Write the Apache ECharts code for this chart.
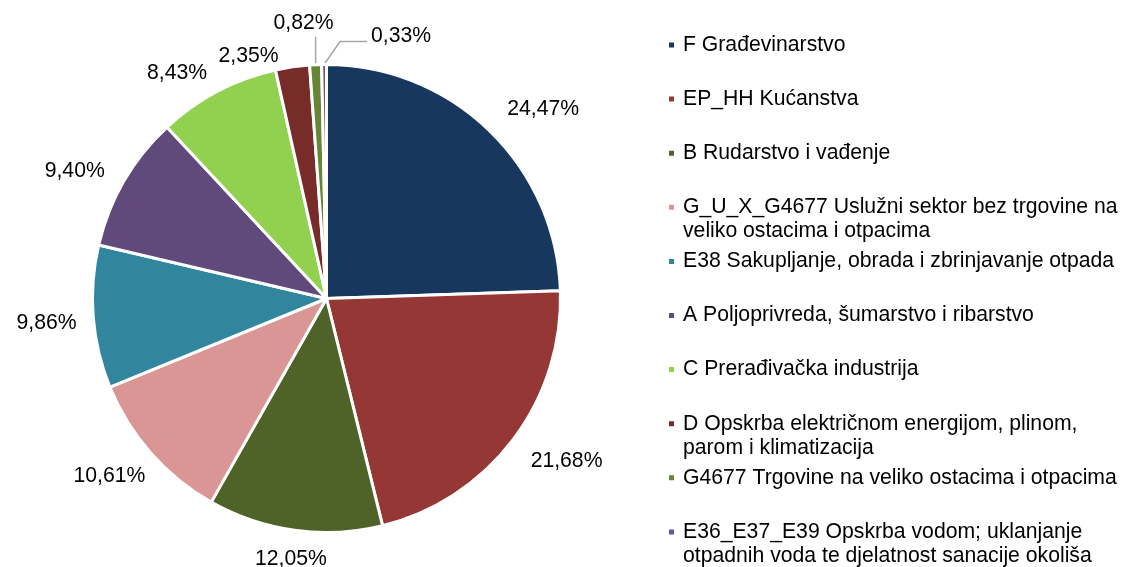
<!DOCTYPE html>
<html>
<head>
<meta charset="utf-8">
<script src="https://cdn.jsdelivr.net/npm/echarts@6/dist/echarts.min.js"></script>
<style>
html,body{margin:0;padding:0;background:#fff;}
#chart{width:1124px;height:567px;}
</style>
</head>
<body>
<div id="chart"></div>
<script>
// ---- data ----
const categories = [
  "F Građevinarstvo",
  "EP_HH Kućanstva",
  "B Rudarstvo i vađenje",
  "G_U_X_G4677 Uslužni sektor bez trgovine na\nveliko ostacima i otpacima",
  "E38 Sakupljanje, obrada i zbrinjavanje otpada",
  "A Poljoprivreda, šumarstvo i ribarstvo",
  "C Prerađivačka industrija",
  "D Opskrba električnom energijom, plinom,\nparom i klimatizacija",
  "G4677 Trgovine na veliko ostacima i otpacima",
  "E36_E37_E39 Opskrba vodom; uklanjanje\notpadnih voda te djelatnost sanacije okoliša"
];
const shares = [24.47, 21.68, 12.05, 10.61, 9.86, 9.40, 8.43, 2.35, 0.82, 0.33];
const colors = ["#17375E", "#953735", "#4F6228", "#D99694", "#31859C", "#604A7B", "#92D050", "#772C2A", "#678535", "#6A569A"];

// ---- layout ----
const FONT = "'Liberation Sans', Arial, sans-serif";
const FS = 21.2;
const cx = 326.5, cy = 298.5, R = 234;
const total = shares.reduce((a, b) => a + b, 0);
const midAngles = [];
{
  let acc = 0;
  shares.forEach(v => { midAngles.push((acc + v / 2) / total * 2 * Math.PI); acc += v; });
}
const fmt = v => v.toFixed(2).replace('.', ',') + '%';
// small label nudges to mimic the spreadsheet's best-fit label placement
const labelNudge = {0: [23, 11], 1: [16, -7], 2: [0, 2], 3: [-7, -7], 4: [-4, 3], 5: [-12, 12], 6: [-24, 13], 7: [-40, 16]};

const legends = categories.map((name, i) => {
  const multi = name.indexOf('\n') >= 0;
  const yLine = 45 + 54.1 * i;
  return {
    show: true,
    orient: 'vertical',
    left: 667,
    top: yLine - (multi ? 36 : 12),
    padding: 0,
    itemWidth: 7,
    itemHeight: 7,
    icon: 'rect',
    selectedMode: false,
    data: [name],
    formatter: multi ? (n => '\n' + n) : (n => n),
    textStyle: {
      fontFamily: FONT,
      fontSize: FS,
      color: '#000',
      lineHeight: 24,
      padding: [0, 0, 0, 3]
    }
  };
});

const chart = echarts.init(document.getElementById('chart'), null, {renderer: 'canvas'});
chart.setOption({
  animation: false,
  color: colors,
  legend: legends,
  series: [{
    type: 'pie',
    center: [cx, cy],
    radius: R,
    startAngle: 90,
    clockwise: true,
    avoidLabelOverlap: false,
    itemStyle: {borderColor: '#fff', borderWidth: 3},
    label: {
      show: true,
      position: 'outside',
      fontFamily: FONT,
      fontSize: FS,
      color: '#000',
      formatter: p => fmt(p.value)
    },
    labelLine: {show: false, length: 15, length2: 0, lineStyle: {color: '#A6A6A6', width: 1.5}},
    labelLayout: function (params) {
      const i = params.dataIndex;
      const a = midAngles[i];
      const ux = Math.sin(a), uy = -Math.cos(a);
      const p0 = [cx + ux * R, cy + uy * R];
      if (i === 8) {
        return {
          x: p0[0] - 12, y: p0[1] - 42, align: 'center', verticalAlign: 'middle',
          labelLinePoints: [p0, [p0[0], p0[1] - 28], [p0[0], p0[1] - 28]]
        };
      }
      if (i === 9) {
        return {
          x: p0[0] + 47, y: p0[1] - 28, align: 'left', verticalAlign: 'middle',
          labelLinePoints: [p0, [p0[0] + 16, p0[1] - 23], [p0[0] + 43, p0[1] - 23]]
        };
      }
      const w = params.labelRect.width, h = params.labelRect.height;
      const D = R + 12 + Math.abs(ux) * w / 2 + Math.abs(uy) * h / 2;
      const nd = labelNudge[i] || [0, 0];
      return {x: cx + ux * D + nd[0], y: cy + uy * D + nd[1], align: 'center', verticalAlign: 'middle'};
    },
    data: categories.map((name, i) => ({
      name: name,
      value: shares[i],
      labelLine: (i >= 8) ? {show: true} : undefined
    }))
  }]
});
</script>
</body>
</html>
